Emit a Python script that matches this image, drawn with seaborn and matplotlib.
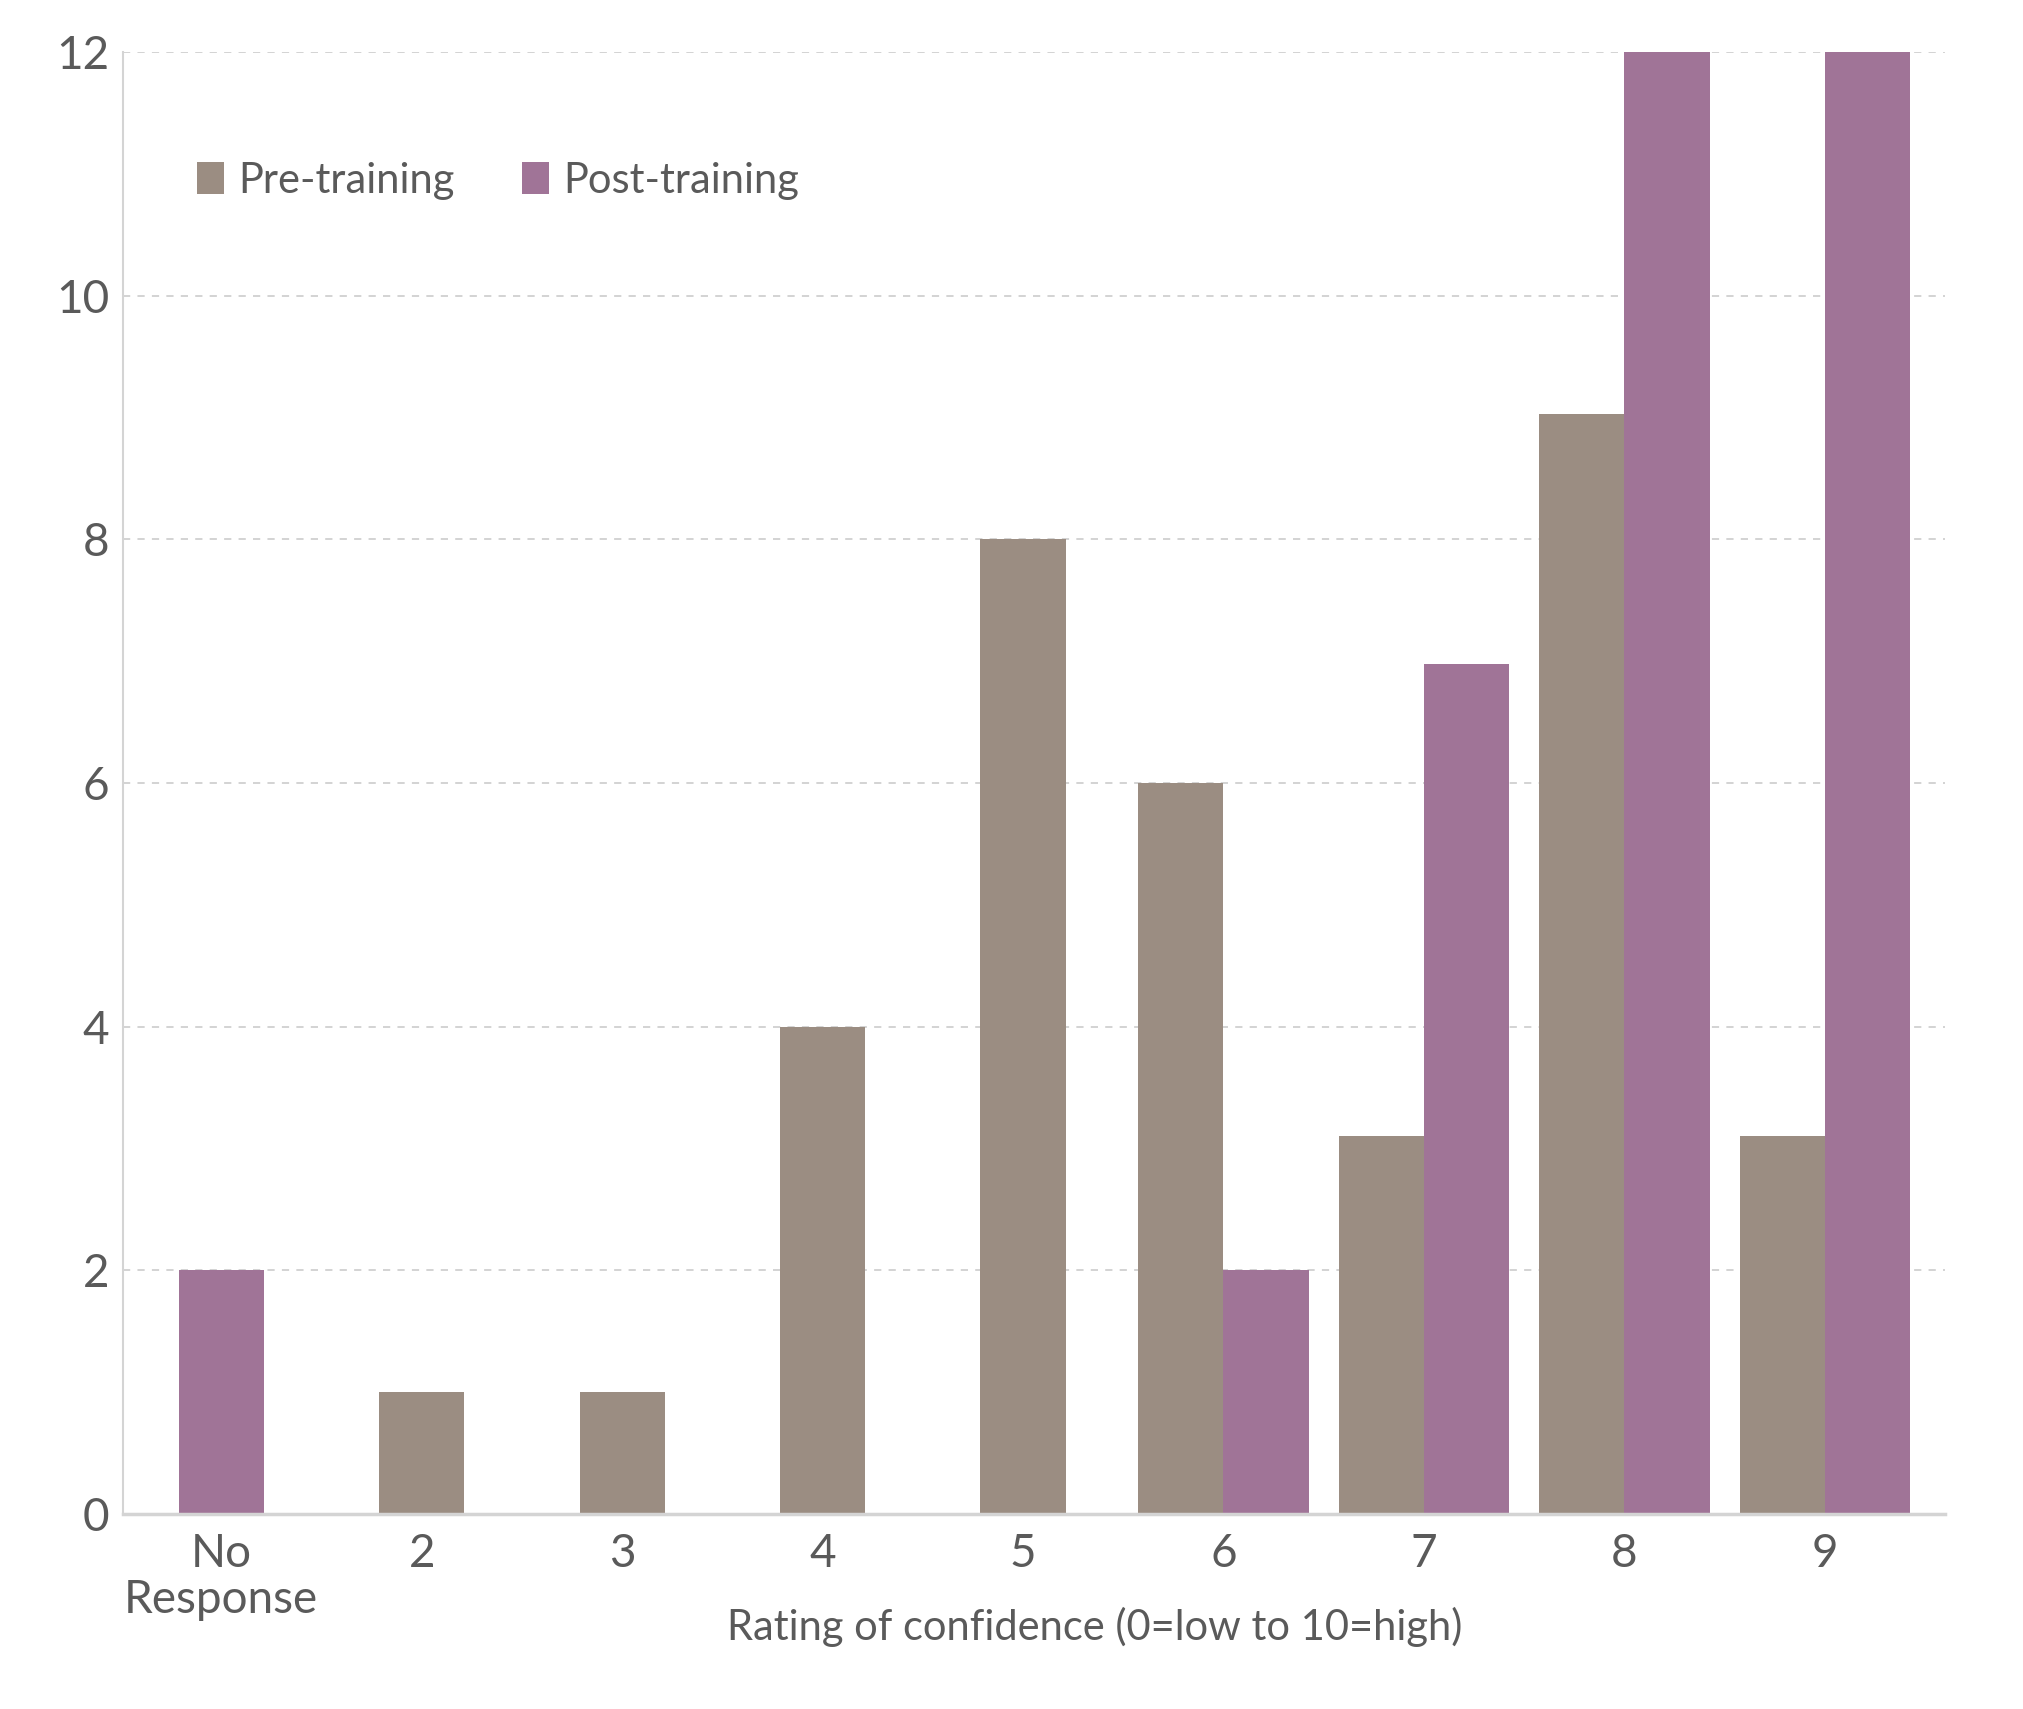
import matplotlib
matplotlib.use("Agg")
import matplotlib.pyplot as plt
import seaborn as sns
import pandas as pd

# Survey data: confidence ratings before and after training
categories = ["No\nResponse", "2", "3", "4", "5", "6", "7", "8", "9"]
pre_training = [0, 1, 1, 4, 8, 6, 3.1, 9.03, 3.1]
post_training = [2, 0, 0, 0, 0, 2, 6.98, 12, 12]
series_names = ["Pre-training", "Post-training"]
colors = {"Pre-training": "#9B8D82", "Post-training": "#A07497"}

BAR_W = 0.425  # width of one bar in category units

# Build long-form table; a lone bar sits centred on its category,
# a pair of bars is split either side of it.
rows = []
for i, cat in enumerate(categories):
    vals = {"Pre-training": pre_training[i], "Post-training": post_training[i]}
    present = [s for s in series_names if vals[s] > 0]
    for j, s in enumerate(present):
        offset = 0.0 if len(present) == 1 else (j - 0.5) * BAR_W
        rows.append({"pos": i + offset, "count": vals[s], "group": s})
df = pd.DataFrame(rows)

sns.set_style("white")
plt.rcParams["font.family"] = ["Lato", "DejaVu Sans"]
text_color = "#5a5a5a"
axis_color = "#d4d4d4"

fig = plt.figure(figsize=(20.24, 17.09), dpi=100)
ax = fig.add_axes([0.0608, 0.1141, 0.9002, 0.8555])

sns.barplot(data=df, x="pos", y="count", hue="group", hue_order=series_names,
            palette=colors, native_scale=True, dodge=False, width=1.0,
            errorbar=None, saturation=1, linewidth=0, ax=ax)

ax.set_xlim(-0.49, 8.6)
ax.set_ylim(0, 12)
ax.set_yticks([0, 2, 4, 6, 8, 10, 12])
ax.set_xticks(range(len(categories)))
ax.set_xticklabels(categories, linespacing=1.1)

ax.yaxis.grid(True, linestyle=(0, (4, 4)), color="#d0d0d0", linewidth=1.3)
ax.set_axisbelow(True)
for side in ["top", "right"]:
    ax.spines[side].set_visible(False)
for side in ["left", "bottom"]:
    ax.spines[side].set_color(axis_color)
    ax.spines[side].set_linewidth(1.5)
ax.spines["bottom"].set_linewidth(2.5)

ax.tick_params(axis="both", color=axis_color, width=1.2, labelsize=33)
ax.tick_params(axis="both", labelcolor=text_color)
ax.tick_params(axis="x", length=9, pad=5)
ax.tick_params(axis="y", length=6, pad=4)

ax.set_ylabel("")
ax.set_xlabel("Rating of confidence (0=low to 10=high)", fontsize=30,
              color=text_color)
ax.xaxis.set_label_coords(0.533, -0.077)
ax.xaxis.label.set_va("center")

handles, labels = ax.get_legend_handles_labels()
ax.legend(handles, labels, loc="center left", bbox_to_anchor=(0.02, 0.912),
          ncol=2, frameon=False, fontsize=30, labelcolor=text_color,
          handlelength=0.65, handleheight=0.8, handletextpad=0.35,
          columnspacing=1.6)

fig.savefig("out.png", dpi=100, facecolor="white")
